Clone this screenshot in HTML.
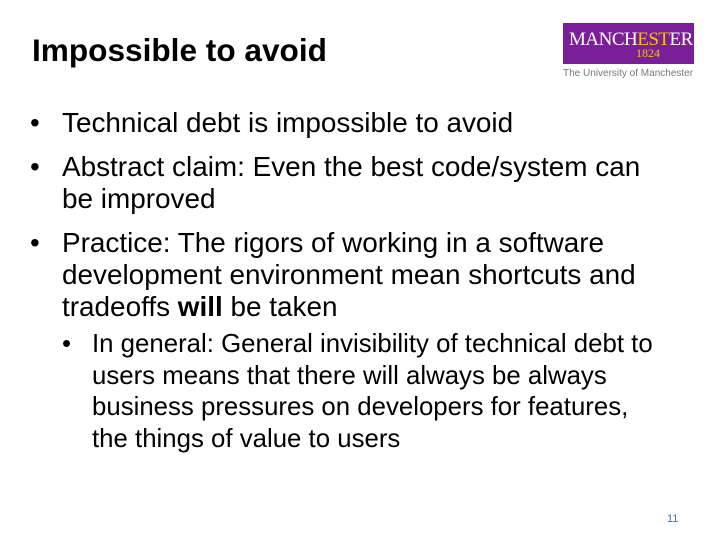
<!DOCTYPE html>
<html><head><meta charset="utf-8"><style>
body{margin:0;width:720px;height:540px;background:#fff;position:relative;overflow:hidden;font-family:"Liberation Sans",Arial,sans-serif;color:#000}
.a{position:absolute;white-space:nowrap}
.t{font-size:27.9px;line-height:32px}
.s{font-size:25.8px;line-height:31.5px}
</style></head><body>
<div class="a" style="left:32px;top:32px;font-size:31.6px;font-weight:bold">Impossible to avoid</div>
<div class="a" style="left:563px;top:23px;width:131px;height:41px;background:#7b1f99">
 <div class="a" style="left:6px;top:6px;font-family:'Liberation Serif',serif;font-size:19px;color:#fff;letter-spacing:-0.5px">MANCH<span style="color:#f2c400">EST</span>ER</div>
 <div class="a" style="left:73px;top:23px;font-family:'Liberation Serif',serif;font-size:12px;color:#f2c400">1824</div>
</div>
<div class="a" style="left:563px;top:68px;font-size:10px;color:#777">The University of Manchester</div>

<div class="a t" style="left:30px;top:107px">•</div>
<div class="a t" style="left:62px;top:107px">Technical debt is impossible to avoid</div>
<div class="a t" style="left:30px;top:151px">•</div>
<div class="a t" style="left:62px;top:151px">Abstract claim: Even the best code/system can<br>be improved</div>
<div class="a t" style="left:30px;top:227px">•</div>
<div class="a t" style="left:62px;top:227px">Practice: The rigors of working in a software<br>development environment mean shortcuts and<br>tradeoffs <b>will</b> be taken</div>
<div class="a s" style="left:62px;top:329px">•</div>
<div class="a s" style="left:92px;top:329px">In general: General invisibility of technical debt to<br>users means that there will always be always<br>business pressures on developers for features,<br>the things of value to users</div>
<div class="a" style="left:667px;top:513px;font-size:11px;color:#4a6fa5">11</div>
</body></html>
